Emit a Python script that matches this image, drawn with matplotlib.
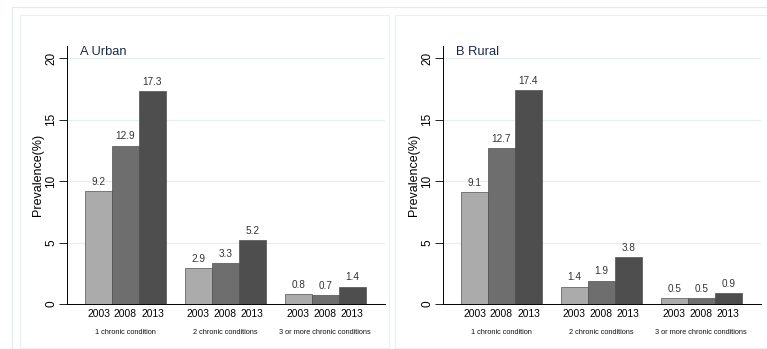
import numpy as np
import matplotlib.pyplot as plt
from matplotlib.patches import Rectangle

plt.rcParams['font.family'] = ['Liberation Sans', 'DejaVu Sans']

years = ['2003', '2008', '2013']
groups = ['1 chronic condition', '2 chronic conditions', '3 or more chronic conditions']
urban = [[9.2, 12.9, 17.3], [2.9, 3.3, 5.2], [0.8, 0.7, 1.4]]
rural = [[9.1, 12.7, 17.4], [1.4, 1.9, 3.8], [0.5, 0.5, 0.9]]
titles = ['A Urban', 'B Rural']
colors = ['#ababab', '#6e6e6e', '#4e4e4e']

W, H = 767, 349
fig = plt.figure(figsize=(W / 100, H / 100), dpi=100)

def px(x0, y0, x1, y1):
    # pixel box (top-left origin) -> figure fraction
    return [x0 / W, 1 - y1 / H, (x1 - x0) / W, (y1 - y0) / H]

# outer frame + panel frames
fig.patches.append(Rectangle((12 / W, -0.01), 1, 1 - 7 / H + 0.01, transform=fig.transFigure,
                             fill=False, ec='#e3ecec', lw=0.8))
for bx0, bx1 in [(20, 389), (395, 770)]:
    fig.patches.append(Rectangle((bx0 / W, 1 / H), (bx1 - bx0) / W, 1 - 16 / H,
                                 transform=fig.transFigure, fill=False, ec='#eaf0f0', lw=0.8))

gap = 3.7
off = 0.667
for k, (data, title, ax0) in enumerate(zip([urban, rural], titles, [67, 443])):
    ax = fig.add_axes(px(ax0, 46, ax0 + 318, 304))
    for g, vals in enumerate(data):
        xs = off + 0.5 + np.arange(3) + g * gap
        ax.bar(xs, vals, width=1, color=colors, edgecolor='#505050', lw=0.5, zorder=3)
        for i, (x, v) in enumerate(zip(xs, vals)):
            ax.text(x, v + 0.35, f'{v:.1f}', ha='center', va='bottom', fontsize=7.2, color='#333333')
            ax.text(x, -0.85, years[i], ha='center', va='center', fontsize=7.4)
        ax.text(xs[1], -2.3, groups[g], ha='center', va='center', fontsize=5.3, color='#111111')
    ax.set_xlim(0, 11.78)
    ax.set_ylim(0, 21)
    ax.set_yticks([0, 5, 10, 15, 20])
    ax.set_yticklabels(['0', '5', '10', '15', '20'], rotation=90, va='center', fontsize=8.5)
    ax.set_xticks([])
    ax.grid(axis='y', color='#e6eff0', lw=0.9, zorder=0)
    ax.tick_params(axis='y', length=5.5, width=0.6, pad=1.5)
    for s in ['top', 'right']:
        ax.spines[s].set_visible(False)
    ax.spines['left'].set_linewidth(0.7)
    ax.spines['bottom'].set_linewidth(0.7)
    ax.set_ylabel('Prevalence(%)', fontsize=9)
    ax.yaxis.set_label_coords(-0.072, 0.5)
    ax.text(0.48, 20.5, title, fontsize=9.3, color='#1c2a48', va='center', ha='left')

fig.savefig('out.png', dpi=100)
